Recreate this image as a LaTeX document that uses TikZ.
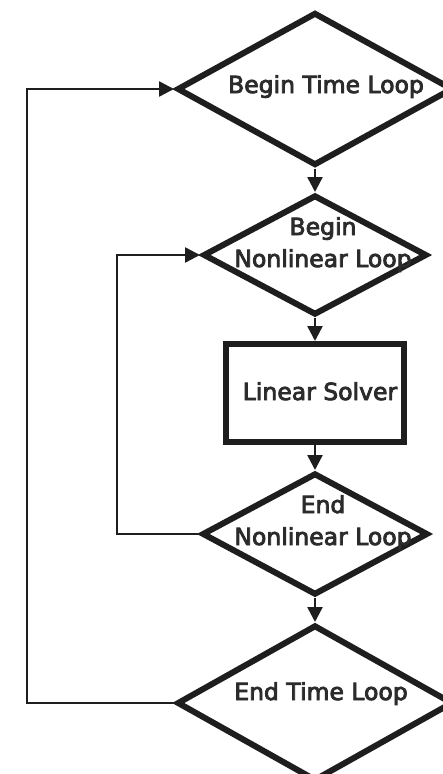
\documentclass[tikz,border=0pt]{standalone}
\usepackage{fontspec}
\setmainfont{DejaVu Sans}
\usetikzlibrary{shapes.geometric,arrows.meta}

\definecolor{linegray}{HTML}{1E1E1E}
\definecolor{textgray}{HTML}{2B2B2B}

% slightly heavier letters
\newcommand{\heavytext}{\special{pdf:literal direct 2 Tr 0.8 w}}

\tikzset{
  decision/.style={diamond, draw=linegray, line width=6pt, inner sep=0pt},
  process/.style={rectangle, draw=linegray, line width=6pt, inner sep=0pt},
  label text/.style={text=textgray, align=center, anchor=base, inner sep=0pt},
  flow/.style={draw=linegray, line width=2.5pt, -{Triangle[length=15pt,width=15pt]}}
}

\begin{document}
\begin{tikzpicture}[font=\fontsize{23.5}{32}\selectfont\heavytext, x=1pt, y=-1pt]

\useasboundingbox (0,0) rectangle (443,774);

% loop boxes
\node[decision, minimum width=276, minimum height=153] (btl) at (315,89) {};
\node[decision, minimum width=224, minimum height=120] (bnl) at (315,255) {};
\node[process, minimum width=178, minimum height=98] (ls) at (315,393) {};
\node[decision, minimum width=226, minimum height=122] (enl) at (315,534) {};
\node[decision, minimum width=276, minimum height=156] (etl) at (315,703) {};

% texts
\node[label text] (btl-t) at (326,93) {Begin Time Loop};
\node[label text] (bnl-t) at (323,267) {Begin\\Nonlinear Loop};
\node[label text] (ls-t) at (320,400) {Linear Solver};
\node[label text] (enl-t) at (323,545) {End\\Nonlinear Loop};
\node[label text] (etl-t) at (321,700) {End Time Loop};

% main flow
\foreach \a/\b in {btl/bnl, bnl/ls, ls/enl, enl/etl}
\draw[flow] (\a.south) -- (\b.north);

% loop back
\draw[flow] (enl.west) -- ++(-82,0) |- (bnl.west);
\draw[flow] (etl.west) -- ++(-147,0) |- (btl.west);

\end{tikzpicture}
\end{document}
